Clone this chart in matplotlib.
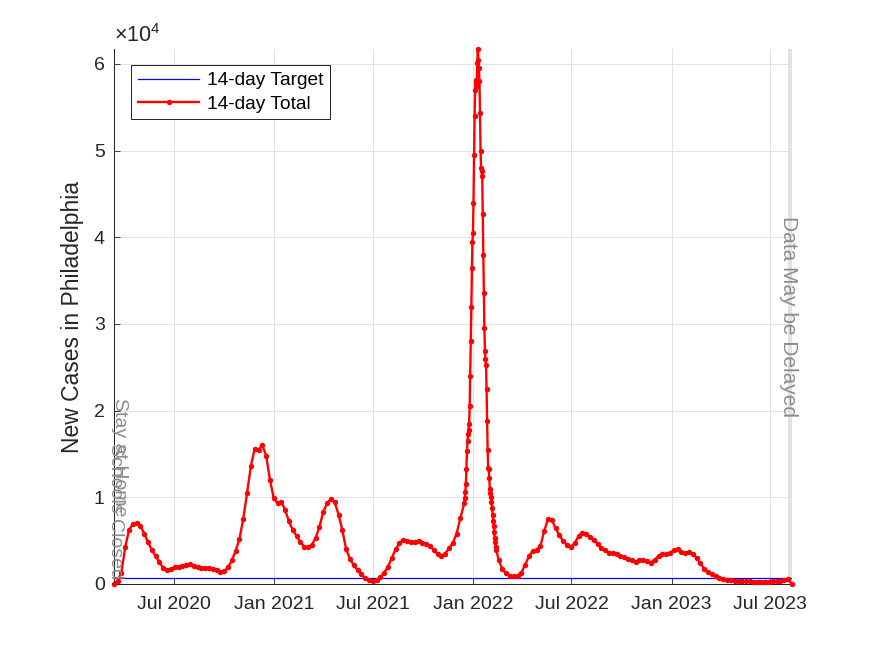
import numpy as np
import matplotlib
matplotlib.use('Agg')
import matplotlib.pyplot as plt
import matplotlib.dates as mdates
from matplotlib.ticker import FuncFormatter, MultipleLocator

plt.rcParams['font.family'] = ['Liberation Sans', 'DejaVu Sans']
plt.rcParams['mathtext.fontset'] = 'custom'
plt.rcParams['mathtext.rm'] = 'Liberation Sans'
plt.rcParams['mathtext.it'] = 'Liberation Sans:italic'

# 14-day totals
# weekly, starting 2020-03-12
weekly_2020_2021 = [
    0, 350, 1300, 4200, 6200, 6900, 7050, 6700, 5800, 4800,
    3900, 3200, 2500, 1800, 1650, 1750, 1900, 2000, 2100, 2200,
    2250, 2050, 1900, 1850, 1800, 1850, 1750, 1600, 1350, 1450,
    1900, 2700, 3800, 5200, 7500, 10500, 13600, 15600, 15500, 16000,
    14800, 12000, 9900, 9300, 9500, 8500, 7200, 6200, 5500, 4800,
    4300, 4200, 4500, 5300, 6600, 8300, 9300, 9800, 9400, 8000,
    6200, 4000, 2900, 2150, 1600, 1100, 650, 400, 320, 400,
    750, 1300, 2000, 3000, 4000, 4700, 5100, 5000, 4800, 4800,
    5000, 4700, 4600, 4350, 3900, 3400, 3200, 3500, 4100, 4700,
    5800, 7600, 9300,
]
# daily, starting 2021-12-17 (Omicron wave)
omicron_daily = [
    9900, 10600, 11500, 13200, 15300, 16500, 17300, 17800, 18400, 20500,
    24000, 28000, 32000, 36500, 39500, 40500, 44000, 49500, 54000, 57000,
    58100, 57800, 57500, 60100, 61700, 60400, 59500, 58000, 54300, 50000,
    48000, 47700, 47100, 42700, 38000, 33600, 29500, 26900, 25900, 25300,
    22500, 18800, 15400, 13400, 13200, 12200, 11000, 10500, 10000, 9500,
    8800, 8000, 7300, 6700, 6000, 5300, 4800, 4300, 3900,
]
# weekly, starting 2022-02-17
weekly_2022_2023 = [
    2800, 1700, 1200, 950, 880, 950, 1300, 2200, 3200, 3800,
    3950, 4400, 6100, 7500, 7400, 6400, 5600, 4900, 4500, 4300,
    4700, 5500, 5900, 5750, 5450, 5100, 4600, 4100, 3850, 3600,
    3550, 3450, 3250, 3050, 2900, 2700, 2550, 2750, 2800, 2650,
    2450, 2800, 3200, 3400, 3450, 3600, 3850, 4050, 3700, 3600,
    3700, 3450, 2950, 2350, 1750, 1350, 1100, 880, 720, 580,
    470, 390, 340, 310, 300, 290, 290, 270, 250, 240,
    240, 260, 290, 320, 360, 410, 520, 0,
]
target_14day = 700

stay_home_date = np.datetime64('2020-03-23')
schools_closed_date = np.datetime64('2020-03-16')

dates = np.concatenate([
    np.datetime64('2020-03-12') + 7 * np.arange(len(weekly_2020_2021)),
    np.datetime64('2021-12-17') + np.arange(len(omicron_daily)),
    np.datetime64('2022-02-17') + 7 * np.arange(len(weekly_2022_2023)),
])
totals = np.array(weekly_2020_2021 + omicron_daily + weekly_2022_2023)
start, end = dates[0], dates[-1]
ymax = totals.max()

dark = (0.15, 0.15, 0.15)
gray_txt = (0.55, 0.55, 0.55)

fig = plt.figure(figsize=(8.75, 6.56), dpi=100)
ax = fig.add_axes([0.13, 0.11, 0.775, 0.815])

# delayed-data band
ax.axvspan(end - np.timedelta64(7, 'D'), end, color='#e3e3e3', lw=0, zorder=0.5)

ax.plot([start, end], [target_14day, target_14day], color='blue', lw=0.9,
        label='14-day Target', zorder=2)
ax.plot(dates, totals, '-', color='red', lw=1.7, marker='o', ms=3.9, mew=0,
        label='14-day Total', zorder=3, clip_on=False)

ax.set_xlim(start, end)
ax.set_ylim(0, ymax)

# annotations
ax.text(schools_closed_date, 16200, 'Schools Closed', rotation=-90, ha='center',
        va='top', color=gray_txt, fontsize=14)
ax.text(stay_home_date, 21400, 'Stay at Home', rotation=-90, ha='center',
        va='top', color=gray_txt, fontsize=14)
ax.text(end - np.timedelta64(7, 'D'), ymax / 2, 'Data May be Delayed', rotation=-90,
        ha='center', va='center', color=gray_txt, fontsize=15)

# axes styling (MATLAB look)
for s in ['top', 'right']:
    ax.spines[s].set_visible(False)
for s in ['left', 'bottom']:
    ax.spines[s].set_color(dark)
    ax.spines[s].set_linewidth(0.75)

ax.xaxis.set_major_locator(mdates.MonthLocator(bymonth=[1, 7]))
ax.xaxis.set_major_formatter(mdates.DateFormatter('%b %Y'))
ax.yaxis.set_major_locator(MultipleLocator(10000))
ax.yaxis.set_major_formatter(FuncFormatter(lambda v, p: f'{v / 1e4:g}'))
ax.tick_params(direction='in', length=4, width=0.6, color=dark,
               labelcolor=dark, labelsize=14)
ax.tick_params(axis='x', pad=8.5)
ax.tick_params(axis='y', pad=6.5)

ax.grid(True, color=(0.87, 0.87, 0.87), lw=0.6)
ax.set_axisbelow(True)

ax.set_ylabel('New Cases in Philadelphia', fontsize=16.5, color=dark, labelpad=7)
ax.text(0.0, 1.005, r'$\times10^{4}$', transform=ax.transAxes, ha='left',
        va='bottom', fontsize=15.5, color=dark)

leg = ax.legend(loc='upper left', bbox_to_anchor=(0.026, 0.97), borderaxespad=0,
                fontsize=13.8, frameon=True, fancybox=False, framealpha=1,
                edgecolor='black', handlelength=3.2, handletextpad=0.4,
                borderpad=0.35, labelspacing=0.3)
leg.get_frame().set_linewidth(0.6)

fig.savefig('out.png', dpi=100)
